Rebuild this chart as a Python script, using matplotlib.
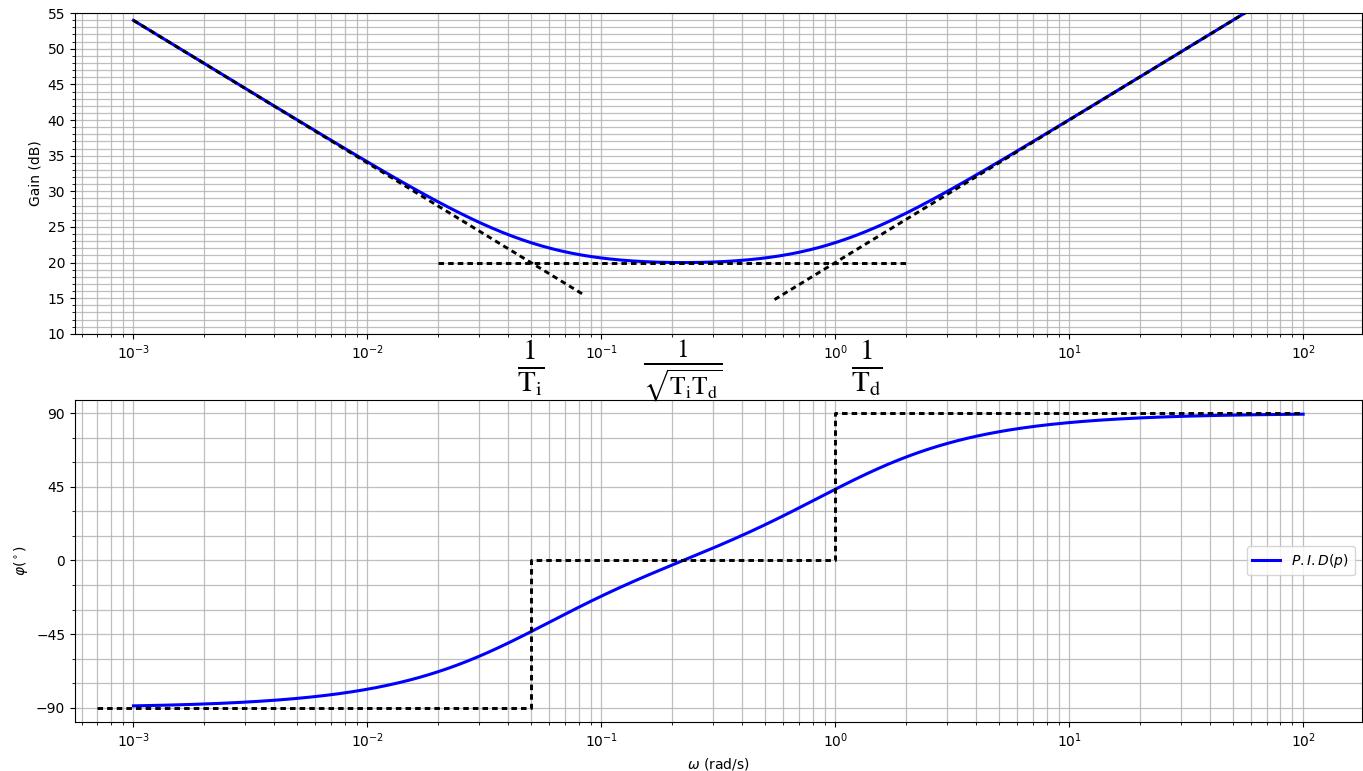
import numpy as np
import matplotlib.pyplot as plt
import matplotlib.transforms as mtransforms
from matplotlib.ticker import MultipleLocator

# PID controller  C(p) = K (1 + 1/(Ti p) + Td p)
K = 10.0
Ti = 20.0
Td = 1.0

w_range = [1e-3, 1e2]
# asymptote segments (rad/s)
w_low_asym = [1e-3, 0.084]
w_mid_asym = [0.02, 2.0]
w_high_asym = [0.55, 100.0]
w_phase_asym = [7e-4, 1 / Ti, 1 / Td, 100.0]
phase_steps = [-90, 0, 90]

w = np.logspace(np.log10(w_range[0]), np.log10(w_range[1]), 600)
C = K * (1 + 1 / (1j * w * Ti) + 1j * w * Td)
gain_db = 20 * np.log10(np.abs(C))
phase_deg = np.degrees(np.angle(C))

fig = plt.figure(figsize=(13.63, 7.71), dpi=100)
ax1 = fig.add_axes([0.055, 0.567, 0.944, 0.416])
ax2 = fig.add_axes([0.055, 0.064, 0.944, 0.417])

xlim = (10 ** -3.25, 10 ** 2.25)
dash = dict(color='k', ls='--', dashes=(1.9, 1.4), lw=2.1)

# gain
ax1.semilogx(w, gain_db, color='blue', lw=2.2)
wl = np.array(w_low_asym)
ax1.plot(wl, 20 * np.log10(K / (Ti * wl)), **dash)
wm = np.array(w_mid_asym)
ax1.plot(wm, 20 * np.log10(K) * np.ones_like(wm), **dash)
wh = np.array(w_high_asym)
ax1.plot(wh, 20 * np.log10(K * Td * wh), **dash)
ax1.set_xlim(*xlim)
ax1.set_ylim(10, 55)
ax1.yaxis.set_major_locator(MultipleLocator(5))
ax1.yaxis.set_minor_locator(MultipleLocator(1))
ax1.grid(True, which='both', color='#b0b0b0', lw=0.9, alpha=0.8)
ax1.set_ylabel('Gain (dB)')

# phase
ax2.semilogx(w, phase_deg, color='blue', lw=2.2, label='$P.I.D(p)$')
wp = w_phase_asym
ax2.plot([wp[0], wp[1], wp[1], wp[2], wp[2], wp[3]],
         [phase_steps[0], phase_steps[0], phase_steps[1], phase_steps[1],
          phase_steps[2], phase_steps[2]], **dash)
ax2.set_xlim(*xlim)
ax2.set_ylim(-98.5, 98)
ax2.yaxis.set_major_locator(MultipleLocator(45))
ax2.yaxis.set_minor_locator(MultipleLocator(15))
ax2.grid(True, which='both', color='#b0b0b0', lw=0.9, alpha=0.8)
ax2.set_ylabel(r'$\varphi(^\circ)$')
ax2.set_xlabel(r'$\omega$ (rad/s)')
ax2.legend(loc='center right')

# break frequencies written between the two plots
# figure-level text so the lower axes does not cover them
corner_labels = [
    (1 / Ti, r'$\frac{1}{\mathrm{T_i}}$', 0, 0, 30),
    (1 / np.sqrt(Ti * Td), r'$\frac{1}{\sqrt{\mathrm{T_i T_d}}}$', 0, 4, 26),
    (1 / Td, r'$\frac{1}{\mathrm{T_d}}$', 23, 0, 30),
]
blend = mtransforms.blended_transform_factory(ax1.transData, ax1.transAxes)
for x, txt, dx, dy, fs in corner_labels:
    tr = mtransforms.offset_copy(blend, fig=fig, x=dx, y=dy, units='points')
    fig.text(x, -0.132, txt, transform=tr, ha='center', va='baseline',
             fontsize=fs, math_fontfamily='stix')

fig.savefig('out.png', dpi=100)
